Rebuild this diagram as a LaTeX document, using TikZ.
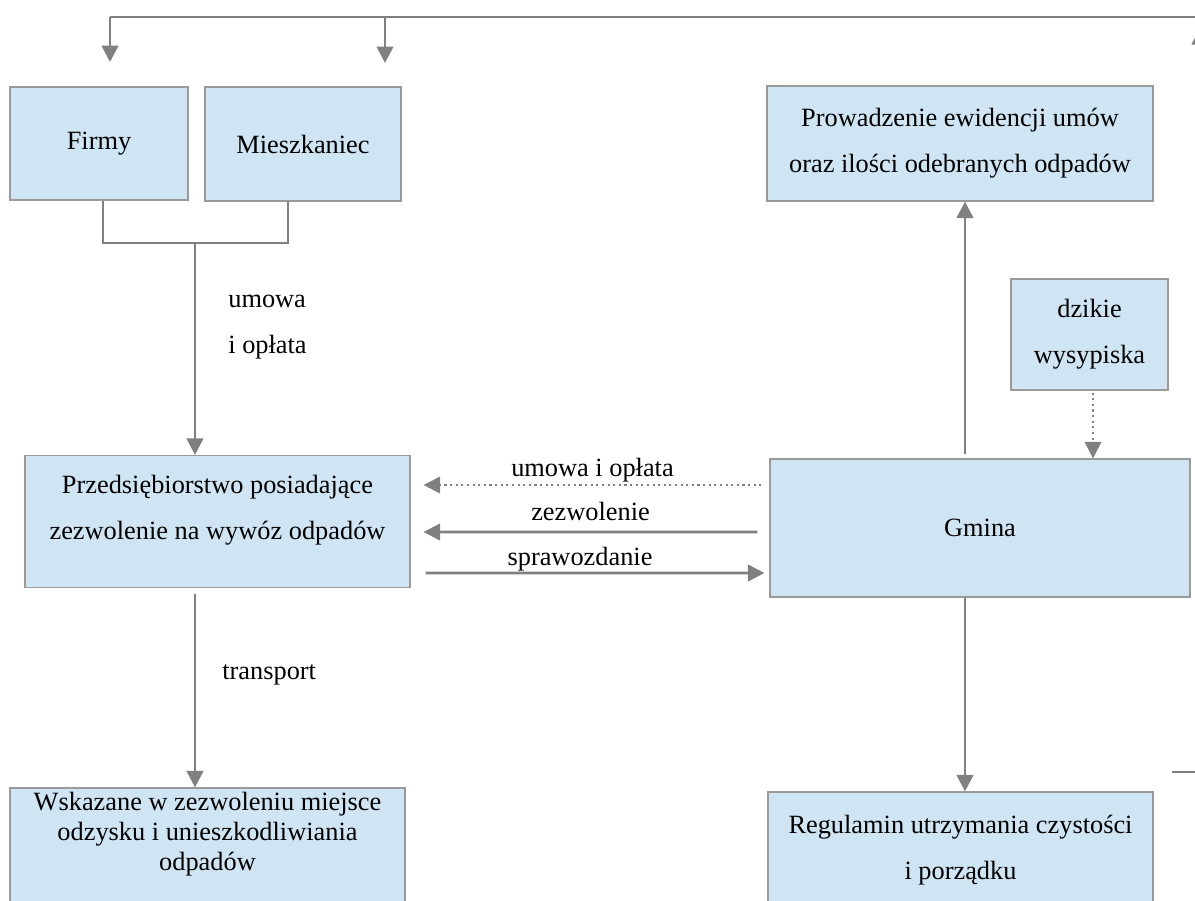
\documentclass[tikz,border=0pt]{standalone}
\usepackage{fontspec}
\setmainfont{Liberation Serif}
\usetikzlibrary{arrows.meta, calc, positioning}
\definecolor{boxblue}{HTML}{CFE5F3}
\definecolor{boxline}{HTML}{9A9A9A}
\definecolor{linegray}{HTML}{808080}

\begin{document}
\begin{tikzpicture}[x=0.02cm, y=-0.02cm,
	box/.style={draw=boxline, line width=0.7pt, fill=boxblue, align=center, inner sep=0pt,
		font=\fontsize{15}{26}\selectfont},
	txt/.style={align=center, inner sep=0pt, font=\fontsize{15}{26}\selectfont},
	conn/.style={draw=linegray, line width=1.6pt},
	tip/.style={-{Triangle[length=0.33cm, width=0.33cm]}},
	dotconn/.style={conn, line width=1.2pt, dotted}]
	\clip (0,0) rectangle (1195,900);

	\node[box, minimum width=3.56cm, minimum height=2.26cm] (firmy) at (99,143.5) {Firmy};
	\node[box, minimum width=3.92cm, minimum height=2.28cm] (miesz) at (303,144) {Mieszkaniec};
	\node[box, minimum width=7.72cm, minimum height=2.30cm] (prow) at (960,143.5)
		{Prowadzenie ewidencji umów\\oraz ilości odebranych odpadów};
	\node[box, minimum width=3.14cm, minimum height=2.22cm] (dzikie) at (1089.5,334.5)
		{dzikie\\wysypiska};
	\node[box, minimum width=7.70cm, minimum height=2.64cm] (przed) at (217.5,521.5) {};
	\node[txt] (przedT) at (217.5,510)
		{Przedsiębiorstwo posiadające\\zezwolenie na wywóz odpadów};
	\node[box, minimum width=8.40cm, minimum height=2.76cm] (gmina) at (980,528) {Gmina};
	\node[box, minimum width=7.90cm, minimum height=2.80cm] (wskaz) at (207.5,858) {};
	\node[txt, font=\fontsize{15}{17}\selectfont] (wskazT) at (207.5,834)
		{Wskazane w zezwoleniu miejsce\\odzysku i unieszkodliwiania\\odpadów};
	\node[box, minimum width=7.70cm, minimum height=2.32cm] (regul) at (960.5,850)
		{Regulamin utrzymania czystości\\i porządku};

	\coordinate (top1) at (110,17);
	\coordinate (top2) at (385,17);
	\coordinate (join) at (195,243);
	\coordinate (gx) at (965,0);
	\coordinate (dx) at (1093,0);
	\coordinate (back) at (1172,772);

	% top line and the return from the right
	\draw[conn] (top1) -- (1200,17);
	\draw[conn, tip] (top1) -- ++(0,45);
	\draw[conn, tip] (top2) -- ++(0,46);
	\draw[conn, tip] (back) -- (1200,772) -- (1200,28);

	% firmy and mieszkaniec
	\draw[conn] ($(firmy.south)+(4,0)$) |- (join) -| ($(miesz.south)+(-15,0)$);
	\draw[conn, tip] (join) -- (join |- przed.north);
	\node[txt, align=left, anchor=west] (umowa1) at (228,327) {umowa\\i opłata};

	\draw[conn, tip] ($(przed.south -| join)+(0,6)$) -- (wskaz.north -| join);
	\node[txt, anchor=west] (transp) at (222,675) {transport};

	% gmina
	\draw[conn, tip] ($(gmina.north -| gx)+(0,-4)$) -- (prow.south -| gx);
	\draw[conn, tip] (gmina.south -| gx) -- (regul.north -| gx);
	\draw[dotconn, tip] ($(dzikie.south -| dx)+(0,2)$) -- (gmina.north -| dx);

	\draw[dotconn, tip] ($(gmina.west)+(-8,-43)$) -- node[midway, above=1pt, txt]{umowa i opłata}
		($(przed.east)+(13,-36.5)$);
	\draw[conn, tip] ($(gmina.west)+(-12,4)$) -- node[midway, above=5.5pt, txt]{zezwolenie}
		($(przed.east)+(13,10.5)$);
	\draw[conn, tip] ($(przed.east)+(15,51.5)$) -- node[midway, above=0pt, txt, xshift=-0.3cm]{sprawozdanie}
		($(gmina.west)+(-5,45)$);
\end{tikzpicture}
\end{document}
